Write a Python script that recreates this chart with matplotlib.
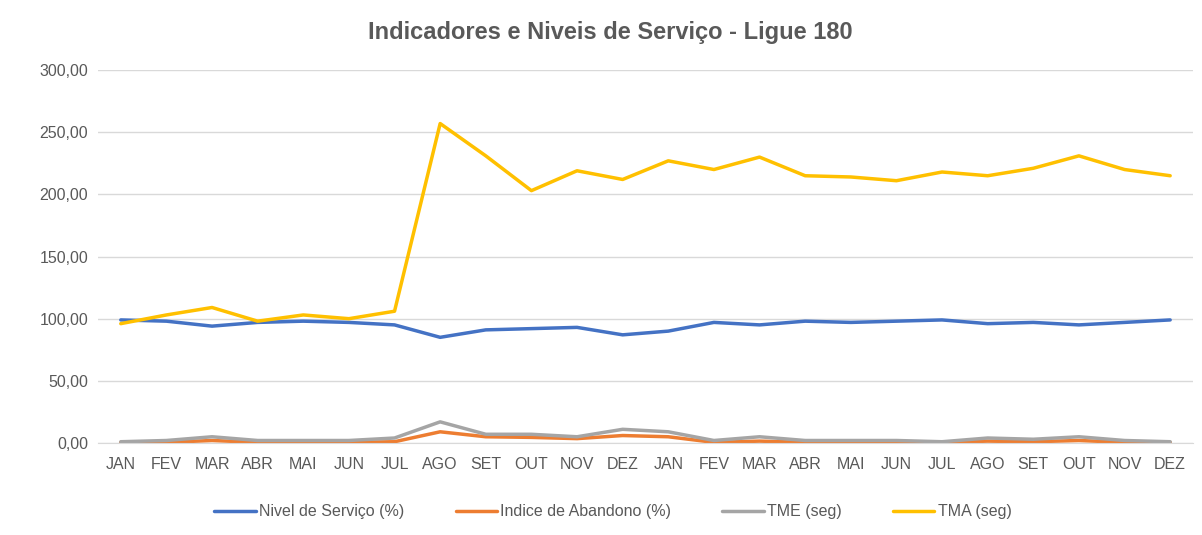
import numpy as np
from matplotlib import pyplot as plt

plt.rcParams['font.family'] = ['Liberation Sans', 'DejaVu Sans']

meses = ["JAN", "FEV", "MAR", "ABR", "MAI", "JUN", "JUL", "AGO", "SET", "OUT", "NOV", "DEZ",
         "JAN", "FEV", "MAR", "ABR", "MAI", "JUN", "JUL", "AGO", "SET", "OUT", "NOV", "DEZ"]

nivel_servico = [99, 98, 94, 97, 98, 97, 95, 85, 91, 92, 93, 87,
                 90, 97, 95, 98, 97, 98, 99, 96, 97, 95, 97, 99]
indice_abandono = [0.5, 0.5, 2, 0.5, 0.5, 0.5, 1, 9, 5, 4.5, 3.5, 6,
                   5, 0.5, 1.5, 0.5, 1, 0.5, 0.5, 1.5, 1, 2, 0.5, 0.5]
tme = [1, 2, 5, 2, 2, 2, 4, 17, 7, 7, 5, 11,
       9, 2, 5, 2, 2, 2, 1, 4, 3, 5, 2, 1]
tma = [96, 103, 109, 98, 103, 100, 106, 257, 231, 203, 219, 212,
       227, 220, 230, 215, 214, 211, 218, 215, 221, 231, 220, 215]

series = [
    ("Nivel de Serviço (%)", nivel_servico, "#4472C4"),
    ("Indice de Abandono (%)", indice_abandono, "#ED7D31"),
    ("TME (seg)", tme, "#A5A5A5"),
    ("TMA (seg)", tma, "#FFC000"),
]

fig = plt.figure(figsize=(12.02, 5.35), dpi=100)
ax = fig.add_axes([0.0815, 0.172, 0.911, 0.697])

x = np.arange(len(meses))
for nome, vals, cor in series:
    ax.plot(x, vals, color=cor, lw=2.5, label=nome, solid_capstyle='round')

ax.set_xlim(-0.5, len(meses) - 0.5)
ax.set_ylim(0, 300)
ax.set_yticks(np.arange(0, 301, 50))
ax.set_yticklabels([f"{v:.2f}".replace(".", ",") for v in np.arange(0, 301, 50)])
ax.set_xticks(x)
ax.set_xticklabels(meses)
ax.tick_params(axis='both', length=0, labelsize=11.5, colors='#595959')
ax.tick_params(axis='x', pad=10)
ax.tick_params(axis='y', pad=7)
ax.grid(axis='y', color='#D9D9D9', lw=1)
ax.set_axisbelow(True)
for s in ['top', 'right', 'left']:
    ax.spines[s].set_visible(False)
ax.spines['bottom'].set_color('#D9D9D9')

fig.suptitle("Indicadores e Niveis de Serviço - Ligue 180", x=0.508, y=0.94,
             va='center', fontsize=17, fontweight='bold', color='#595959')
fig.legend(loc='center', bbox_to_anchor=(0.51, 0.043), ncol=4, frameon=False,
           fontsize=11.5, labelcolor='#595959', handlelength=2.6, handletextpad=0.2,
           columnspacing=3.2)

fig.savefig("out.png", dpi=100)
